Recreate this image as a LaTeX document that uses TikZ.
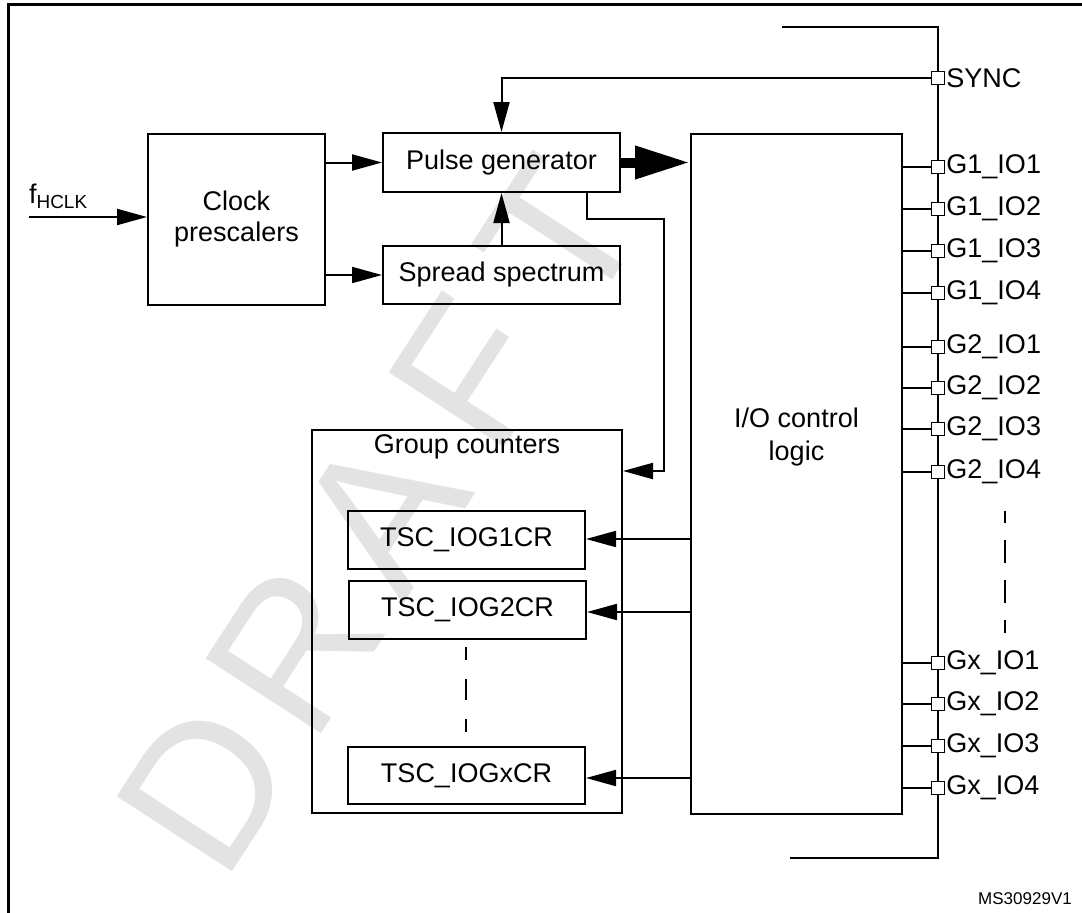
\documentclass[tikz,border=0pt]{standalone}
\usepackage{fontspec}
\setmainfont{Liberation Sans}
\usetikzlibrary{arrows.meta}

\tikzset{
  blk/.style={draw, line width=2pt, inner sep=0pt, align=center, font=\fontsize{27}{31}\selectfont},
  txt/.style={inner sep=0pt, align=center, font=\fontsize{27}{33}\selectfont},
  arr/.style={line width=2pt, -{Triangle[length=30pt,width=16pt]}},
  fatarr/.style={line width=10pt, -{Triangle[length=55pt,width=31pt]}},
  pin/.style={draw, fill=white, line width=1.5pt, minimum size=13pt, inner sep=0pt},
  pinlbl/.style={anchor=west, inner sep=1pt, font=\fontsize{27}{31}\selectfont},
}

\begin{document}
\begin{tikzpicture}[x=1pt,y=-1pt]
\useasboundingbox (0,0) rectangle (1082,913);
% watermark
\foreach \ch [count=\k from 0] in {D,R,A,F,T}
  \node[text=black!11, rotate=57, inner sep=0pt, font=\fontsize{200}{200}\selectfont] (wm\k) at (205+88.75*\k,787-138*\k) {\ch};
% frame
\draw[line width=3pt] (8,913) -- (8,4) -- (1082,4);
% blocks
\node[blk, minimum width=177pt, minimum height=171pt] (clk) at (236.5,219.5) {Clock\\prescalers};
\node[blk, minimum width=237pt, minimum height=59pt] (pulse) at (501.5,162.5) {Pulse generator};
\node[blk, minimum width=237pt, minimum height=58pt] (spread) at (501.5,275) {Spread spectrum};
\node[blk, minimum width=211pt, minimum height=680pt] (io) at (796.5,474) {};
\node[txt] (iotxt) at (796.5,437) {I/O control\\logic};
\node[blk, minimum width=310pt, minimum height=383pt] (group) at (467,621.5) {};
\node[txt] (grptxt) at (467,447) {Group counters};
\node[blk, minimum width=237pt, minimum height=58pt] (reg1) at (466.5,540) {TSC\_IOG1CR};
\node[blk, minimum width=237pt, minimum height=58pt] (reg2) at (467.5,610) {TSC\_IOG2CR};
\node[blk, minimum width=237pt, minimum height=57pt] (regx) at (466.5,775.5) {TSC\_IOGxCR};
\draw[line width=2pt, dash pattern=on 21pt off 19pt, dash phase=8pt] (466,647) -- (466,732);
% clock input
\coordinate (fin) at (29,217);
\node[anchor=south west, inner sep=0pt, font=\fontsize{27}{31}\selectfont] (finlbl) at ([yshift=8pt]fin) {f\textsubscript{HCLK}};
\draw[arr] (fin) -- (clk.west |- fin);
\draw[arr] (clk.east |- pulse.west) -- (pulse.west);
\draw[arr] (clk.east |- spread.west) -- (spread.west);
\draw[arr] (spread.north) -- (pulse.south);
\draw[fatarr] (pulse.east) -- (io.west |- pulse.east);
\draw[arr] ([xshift=85.5pt]pulse.south) |- (664,219) |- (group.east |- 0,471);
\draw[arr] (io.west |- 0,539) -- (reg1.east |- 0,539);
\draw[arr] (io.west |- 0,612) -- (reg2.east |- 0,612);
\draw[arr] (io.west |- 0,778) -- (regx.east |- 0,778);
% pins
\draw[line width=2pt] (782,27) -- (938,27) -- (938,858) -- (790,858);
\node[pin] (psync) at (938,78) {};
\node[pinlbl] (lsync) at (psync.east) {SYNC};
\draw[arr] (psync.west) -| (pulse.north);
\foreach \g/\i/\yy in {1/1/167,1/2/209,1/3/251,1/4/293,2/1/347,2/2/388,2/3/429,2/4/472,x/1/663,x/2/704,x/3/746,x/4/788} {
  \draw[line width=2pt] (io.east |- 0,\yy) -- (932,\yy);
  \node[pin] (p\g\i) at (938,\yy) {};
  \node[pinlbl] (l\g\i) at (p\g\i.east) {G\g\_IO\i};
}
\draw[line width=2pt, dash pattern=on 23pt off 17pt, dash phase=11pt] (1005,511) -- (1005,633);
\node[anchor=east, inner sep=0pt, font=\fontsize{17}{19}\selectfont] (docid) at (1072,899) {MS30929V1};
\end{tikzpicture}
\end{document}
